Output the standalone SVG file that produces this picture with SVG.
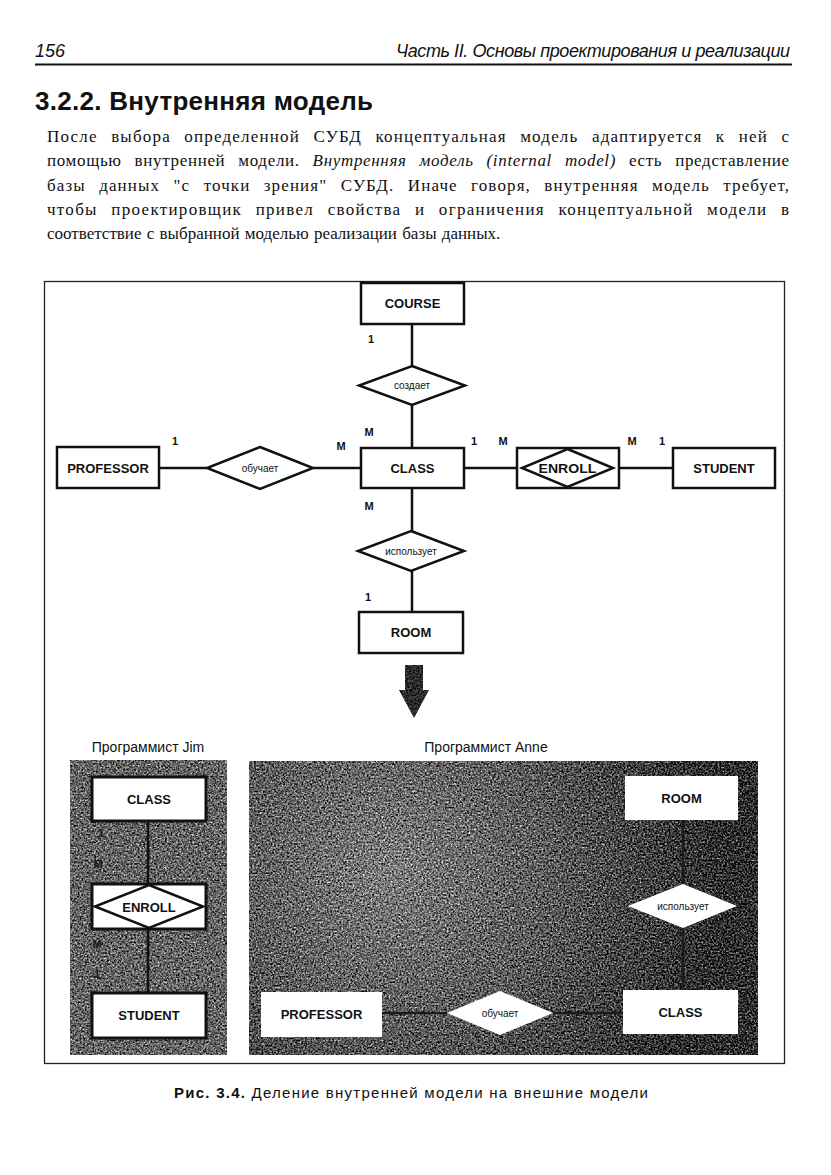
<svg xmlns="http://www.w3.org/2000/svg" width="831" height="1175" viewBox="0 0 831 1175">
<style>
.hdr{font-family:"Liberation Sans",Arial,sans-serif;font-style:italic;font-size:18px;fill:#111}
.title{font-family:"Liberation Sans",Arial,sans-serif;font-weight:bold;font-size:26px;fill:#111}
.body{font-family:"Liberation Serif","Times New Roman",serif;font-size:17px;fill:#111;word-spacing:8px}
.ent{fill:#fff;stroke:#111;stroke-width:2.5}
.pent{fill:#fff;stroke:#111;stroke-width:3}
.aent{fill:#fff;stroke:none}
.rel{fill:#fff;stroke:#111;stroke-width:2.5}
.lbl{font-family:"Liberation Sans",Arial,sans-serif;font-weight:bold;font-size:13px;fill:#111;text-anchor:middle}
.rlbl{font-family:"Liberation Sans",Arial,sans-serif;font-size:10px;fill:#111;text-anchor:middle}
.card{font-family:"Liberation Sans",Arial,sans-serif;font-weight:bold;font-size:11px;fill:#111;text-anchor:middle}
.cardd{font-family:"Liberation Sans",Arial,sans-serif;font-weight:bold;font-size:11px;fill:#1a1a1a;text-anchor:middle}
.conn{stroke:#111;stroke-width:2.5;fill:none}
.aconn{stroke:#1c1c1c;stroke-width:2.5;fill:none}
.prog{font-family:"Liberation Sans",Arial,sans-serif;font-size:14px;fill:#111;text-anchor:middle}
.cap{font-family:"Liberation Sans",Arial,sans-serif;font-size:15px;fill:#111}
</style>
<defs>
<filter id="grain" x="0" y="0" width="1" height="1" color-interpolation-filters="sRGB">
<feTurbulence type="fractalNoise" baseFrequency="0.55" numOctaves="3" seed="4" result="n"/>
<feColorMatrix in="n" type="matrix" values="0.33 0.33 0.33 0 0 0.33 0.33 0.33 0 0 0.33 0.33 0.33 0 0 0 0 0 0 1" result="g"/>
<feComposite in="g" in2="SourceGraphic" operator="arithmetic" k1="0" k2="2.2" k3="1" k4="-1.1" result="m"/>
<feComposite in="m" in2="SourceAlpha" operator="in"/>
</filter>
<filter id="grainDark" x="0" y="0" width="1" height="1" color-interpolation-filters="sRGB">
<feTurbulence type="fractalNoise" baseFrequency="0.6" numOctaves="2" seed="9" result="n"/>
<feColorMatrix in="n" type="matrix" values="0.33 0.33 0.33 0 0 0.33 0.33 0.33 0 0 0.33 0.33 0.33 0 0 0 0 0 0 1" result="g"/>
<feComposite in="g" in2="SourceGraphic" operator="arithmetic" k1="0" k2="1.2" k3="1" k4="-0.6" result="m"/>
<feComposite in="m" in2="SourceAlpha" operator="in"/>
</filter>
<radialGradient id="anneBg" gradientUnits="userSpaceOnUse" cx="390" cy="870" r="330">
<stop offset="0" stop-color="#7e7e7e"/>
<stop offset="0.5" stop-color="#5c5c5c"/>
<stop offset="1" stop-color="#303030"/>
</radialGradient>
</defs>
<rect width="831" height="1175" fill="#fff"/>

<!-- page header -->
<text class="hdr" x="35" y="57">156</text>
<text class="hdr" x="790" y="57" text-anchor="end" textLength="394" lengthAdjust="spacing">Часть II. Основы проектирования и реализации</text>
<line x1="35" y1="64.5" x2="792" y2="64.5" stroke="#111" stroke-width="2"/>

<text class="title" x="35" y="110" textLength="338" lengthAdjust="spacing">3.2.2. Внутренняя модель</text>

<text class="body" x="47" y="142" textLength="742" lengthAdjust="spacing">После выбора определенной СУБД концептуальная модель адаптируется к ней с</text>
<text class="body" x="47" y="166" textLength="742" lengthAdjust="spacing">помощью внутренней модели. <tspan font-style="italic">Внутренняя модель (internal model)</tspan> есть представление</text>
<text class="body" x="47" y="191" textLength="742" lengthAdjust="spacing">базы данных "с точки зрения" СУБД. Иначе говоря, внутренняя модель требует,</text>
<text class="body" x="47" y="215" textLength="742" lengthAdjust="spacing">чтобы проектировщик привел свойства и ограничения концептуальной модели в</text>
<text class="body" x="47" y="239" style="word-spacing:1px">соответствие с выбранной моделью реализации базы данных.</text>

<!-- figure frame -->
<rect x="44.5" y="281.5" width="740" height="782" fill="none" stroke="#222" stroke-width="1.3"/>

<!-- connectors -->
<g id="connectors">
<line class="conn" x1="412" y1="324" x2="412" y2="366"/>
<line class="conn" x1="412" y1="405" x2="412" y2="448"/>
<line class="conn" x1="412" y1="488" x2="412" y2="531"/>
<line class="conn" x1="412" y1="571" x2="412" y2="612"/>
<line class="conn" x1="159" y1="468" x2="207" y2="468"/>
<line class="conn" x1="313" y1="468" x2="361" y2="468"/>
<line class="conn" x1="464" y1="468" x2="517" y2="468"/>
<line class="conn" x1="619" y1="468" x2="673" y2="468"/>
</g>

<!-- top ER diagram nodes -->
<g id="course"><rect class="ent" x="361" y="283" width="103" height="41"/><text class="lbl" x="412.5" y="308">COURSE</text></g>
<g id="sozdaet"><polygon class="rel" points="412,366 465,385.5 412,405 359,385.5"/><text class="rlbl" x="412" y="389">создает</text></g>
<g id="professor"><rect class="ent" x="57" y="447" width="102" height="41"/><text class="lbl" x="108" y="472.5">PROFESSOR</text></g>
<g id="obuchaet"><polygon class="rel" points="260,447 313,468 260,489 207,468"/><text class="rlbl" x="260" y="471.5">обучает</text></g>
<g id="class"><rect class="ent" x="361" y="448" width="103" height="40"/><text class="lbl" x="412.5" y="472.5">CLASS</text></g>
<g id="enroll"><rect class="ent" x="517" y="448" width="102" height="40"/><polygon class="rel" points="567.5,449 613,468 567.5,487 522,468"/><text class="lbl" x="567.5" y="473" textLength="58" lengthAdjust="spacingAndGlyphs">ENROLL</text></g>
<g id="student"><rect class="ent" x="673" y="448" width="102" height="40"/><text class="lbl" x="724" y="472.5">STUDENT</text></g>
<g id="ispolzuet"><polygon class="rel" points="411,531 464,551 411,571 358,551"/><text class="rlbl" x="411" y="554.5">использует</text></g>
<g id="room"><rect class="ent" x="359" y="612" width="104" height="41"/><text class="lbl" x="411" y="637">ROOM</text></g>

<g id="cardinalities">
<text class="card" x="371" y="343">1</text>
<text class="card" x="369" y="436">M</text>
<text class="card" x="341" y="450">M</text>
<text class="card" x="175" y="445">1</text>
<text class="card" x="474" y="445">1</text>
<text class="card" x="503" y="445">M</text>
<text class="card" x="632" y="445">M</text>
<text class="card" x="662" y="445">1</text>
<text class="card" x="369" y="510">M</text>
<text class="card" x="368" y="601">1</text>
</g>

<!-- arrow -->
<g id="arrow">
<polygon points="405,665 423,665 423,690 429,690 414,718 399,690 405,690" fill="#2c2c2c" filter="url(#grainDark)"/>
</g>

<!-- Programmer Jim view -->
<text class="prog" x="148" y="752">Программист Jim</text>
<g id="jim-panel">
<rect x="70" y="760" width="157" height="295" fill="#666" filter="url(#grain)"/>
<line class="conn" x1="148" y1="821" x2="148" y2="884" stroke-width="3"/>
<line class="conn" x1="148" y1="929" x2="148" y2="993" stroke-width="3"/>
<g id="jim-class"><rect class="pent" x="92" y="777" width="114" height="44"/><text class="lbl" x="149" y="804">CLASS</text></g>
<g id="jim-enroll"><rect class="pent" x="92" y="884" width="114" height="45"/><polygon class="rel" points="149,885 203,906.5 149,928 95,906.5"/><text class="lbl" x="149" y="911.5">ENROLL</text></g>
<g id="jim-student"><rect class="pent" x="92" y="993" width="114" height="45"/><text class="lbl" x="149" y="1020">STUDENT</text></g>
<text class="cardd" x="101" y="837">1</text>
<text class="cardd" x="98" y="868">M</text>
<text class="cardd" x="97" y="948">M</text>
<text class="cardd" x="97" y="978">1</text>
</g>

<!-- Programmer Anne view -->
<text class="prog" x="486" y="752">Программист Anne</text>
<g id="anne-panel">
<rect x="249" y="761" width="509" height="294" fill="url(#anneBg)" filter="url(#grain)"/>
<line class="aconn" x1="683" y1="820" x2="683" y2="884"/>
<line class="aconn" x1="683" y1="928" x2="683" y2="990"/>
<line class="aconn" x1="382" y1="1013" x2="447" y2="1013"/>
<line class="aconn" x1="553" y1="1013" x2="623" y2="1013"/>
<g id="anne-room"><rect class="aent" x="625" y="776" width="113" height="44"/><text class="lbl" x="681.5" y="803">ROOM</text></g>
<g id="anne-ispolzuet"><polygon class="aent" points="683,884 737,906 683,928 628,906"/><text class="rlbl" x="683" y="909.5">использует</text></g>
<g id="anne-class"><rect class="aent" x="623" y="990" width="115" height="44"/><text class="lbl" x="680.5" y="1017">CLASS</text></g>
<g id="anne-professor"><rect class="aent" x="261" y="992" width="121" height="45"/><text class="lbl" x="321.5" y="1019">PROFESSOR</text></g>
<g id="anne-obuchaet"><polygon class="aent" points="500,991 553,1013 500,1035 447,1013"/><text class="rlbl" x="500" y="1016.5">обучает</text></g>
</g>

<!-- caption -->
<text class="cap" x="174" y="1098" textLength="474" lengthAdjust="spacing"><tspan font-weight="bold">Рис. 3.4.</tspan> Деление внутренней модели на внешние модели</text>
</svg>
